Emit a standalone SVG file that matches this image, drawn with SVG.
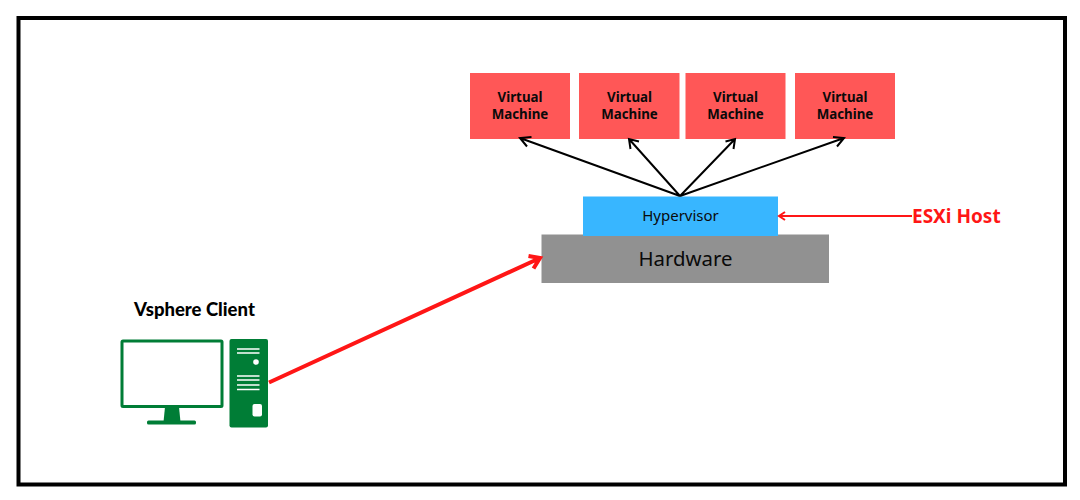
<svg xmlns="http://www.w3.org/2000/svg" width="1080" height="500" viewBox="0 0 1080 500">
<style>
.vm{fill:#ff5757}
.t{font-family:"Noto Sans","Liberation Sans",sans-serif;fill:#0a0a0a;text-anchor:middle}
.vt{font-size:13.300px;font-weight:700}
.k{fill:none;stroke:#000;stroke-width:2}
.r{fill:none;stroke:#ff1616}
.g{fill:#007d36}
</style>
<rect width="1080" height="500" fill="#fff"/>
<rect x="18.500" y="18" width="1046.500" height="466.500" fill="#fff" stroke="#000" stroke-width="4"/>
<g id="vm1"><rect class="vm" x="470" y="73" width="100" height="66"/><text class="t vt" x="520" y="101.500">Virtual</text><text class="t vt" x="520" y="119">Machine</text></g>
<g id="vm2"><rect class="vm" x="579" y="73" width="100.500" height="66"/><text class="t vt" x="629.500" y="101.500">Virtual</text><text class="t vt" x="629.500" y="119">Machine</text></g>
<g id="vm3"><rect class="vm" x="685.500" y="73" width="100" height="66"/><text class="t vt" x="735.500" y="101.500">Virtual</text><text class="t vt" x="735.500" y="119">Machine</text></g>
<g id="vm4"><rect class="vm" x="795" y="73" width="100" height="66"/><text class="t vt" x="845" y="101.500">Virtual</text><text class="t vt" x="845" y="119">Machine</text></g>
<g id="hardware"><rect x="541.500" y="234.500" width="287.500" height="48.500" fill="#919191"/><text class="t" x="685.500" y="266" font-size="20.400px">Hardware</text></g>
<g id="hypervisor"><rect x="583" y="196.500" width="195" height="39.500" fill="#38b6ff"/><text class="t" x="680.500" y="221" font-size="15px">Hypervisor</text></g>
<g id="esxi"><text x="912" y="223" font-family="'Noto Sans','Liberation Sans',sans-serif" font-size="19px" font-weight="700" fill="#ff1616">ESXi Host</text></g>
<g id="client">
<text x="194.500" y="316" text-anchor="middle" font-family="Lato,'Liberation Sans',sans-serif" font-size="18.500px" font-weight="900" fill="#000">Vsphere Client</text>
<rect x="122" y="341" width="100" height="65.500" rx="1" fill="#fff" stroke="#007d36" stroke-width="3"/>
<path class="g" d="M165 407h14l1.500 15h-17z"/>
<rect class="g" x="147" y="420.500" width="49" height="4" rx="1.500"/>
<rect class="g" x="229.500" y="339" width="38.500" height="88.500" rx="2"/>
<path d="M237 349h22.500M237 353h22.500M237 376h22.500M237 380h22.500M237 385h22.500M237 389.500h22.500" stroke="#fff" stroke-width="1.400" fill="none"/>
<circle cx="256" cy="362" r="2.800" fill="#fff"/>
<rect x="252.500" y="404" width="9.500" height="12.500" rx="2" fill="#fff"/>
</g>
<g id="connectors">
<path class="k" d="M680 196 520 138M527 146.500 520 138 531.500 137M680 196 629 139M630.500 149 629 139 639 141.500M680 196 735 139M725.500 141.500 735 139 733.500 149M680 196 844 138M833 137 844 138 837 146.500"/>
<path class="r" stroke-width="2" d="M912 216H779M785 212 779 216 785 220"/>
<path class="r" stroke-width="4" d="M269 382.500 540 258M528.500 256 540 258 533.500 268.500"/>
</g>
</svg>
